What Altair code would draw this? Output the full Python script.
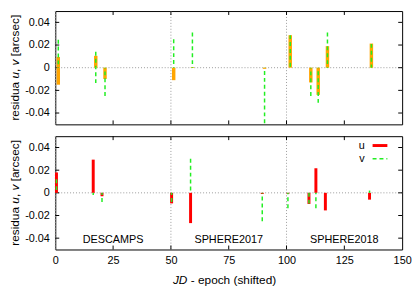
import altair as alt
import pandas as pd

# ---------------- data ----------------
x_ticks = [0, 25, 50, 75, 100, 125, 150]
inner_x_ticks = [25, 50, 75, 100, 125]
y_ticks = [-0.04, -0.02, 0, 0.02, 0.04]
sep_x = [0, 50, 100]

top_u_x = [1.3, 1.3, 17.5, 21.5, 51.2, 59.3, 90.5, 101.6, 110.5, 113.7, 117.7, 136.7]
top_u = [0.0095, -0.015, 0.0105, -0.010, -0.011, 0.0006, -0.001, 0.0287, -0.013, -0.024, 0.019, 0.0213]
top_v_x = [1.3, 17.5, 17.5, 21.5, 51.2, 59.3, 90.5, 101.6, 110.5, 113.7, 117.7, 136.7]
top_v = [0.0247, 0.014, -0.0136, -0.025, 0.025, 0.031, -0.049, 0.0287, -0.025, -0.031, 0.031, 0.021]

bot_u_x = [0.5, 16.4, 20.2, 50.3, 58.5, 89.5, 100.6, 109.7, 112.7, 116.8, 135.9]
bot_u = [0.018, 0.0293, -0.003, -0.0093, -0.0267, -0.001, -0.0008, -0.0098, 0.0217, -0.0155, -0.006]
bot_v_x = [0.5, 16.4, 20.2, 50.3, 58.5, 89.5, 100.6, 109.7, 112.7, 135.9]
bot_v = [0.012, -0.002, -0.008, -0.008, 0.030, -0.025, -0.0135, -0.0095, -0.0135, 0.002]

group_labels = ["DESCAMPS", "SPHERE2017", "SPHERE2018"]
group_x = [25, 75, 125]
group_y = [-0.042, -0.042, -0.042]

legend_labels = ["u", "v"]
y_title_parts = ["residua", "u", ",", "v", "[arcsec]"]
x_title_parts = ["JD", "- epoch (shifted)"]

# ---------------- style ----------------
W, H = 352, 115
FONT = "Liberation Sans"
ORANGE = "#ffa500"
GREEN = "#22ee22"
RED = "#ff0000"
GRAYDOT = "#9a9a9a"

xscale = alt.Scale(domain=[0, 150], nice=False, zero=False)
yscale = alt.Scale(domain=[-0.05, 0.05], nice=False, zero=False)

yaxis = alt.Axis(values=y_ticks, ticks=False, tickSize=0, domain=False, grid=False,
                 title=None, labelFont=FONT, labelFontSize=11, labelColor="black",
                 labelPadding=6,
                 labelExpr="datum.value == 0 ? '0' : (datum.value < 0 ? '-' : '') + format(abs(datum.value), '.2f')")
xaxis_bottom = alt.Axis(values=x_ticks, ticks=False, tickSize=0, domain=False, grid=False,
                        title=None, labelFont=FONT, labelFontSize=11, labelColor="black",
                        labelPadding=5, labelFlush=False)


def panel(ux, u, vx, v, ucolor, uwidth, show_x, legend):
    xaxis = xaxis_bottom if show_x else None

    def X(f):
        return alt.X(f, type="quantitative", scale=xscale, axis=xaxis)

    def Y(f):
        return alt.Y(f, type="quantitative", scale=yscale, axis=yaxis)

    du = pd.DataFrame({"x": ux, "y": u})
    dv = pd.DataFrame({"x": vx, "y": v})
    dyt = pd.DataFrame({"y": y_ticks})
    dxt = pd.DataFrame({"x": inner_x_ticks})

    layers = []
    layers.append(alt.Chart(pd.DataFrame({"y": [0]})).mark_rule(
        color=GRAYDOT, strokeDash=[1, 2], strokeWidth=1).encode(y=Y("y")))
    layers.append(alt.Chart(pd.DataFrame({"x": sep_x})).mark_rule(
        color=GRAYDOT, strokeDash=[1, 2], strokeWidth=1).encode(x=X("x")))
    # inward ticks
    layers.append(alt.Chart(dyt).mark_rule(color="black", strokeWidth=1).encode(
        y=Y("y"), x=alt.value(0), x2=alt.value(4)))
    layers.append(alt.Chart(dyt).mark_rule(color="black", strokeWidth=1).encode(
        y=Y("y"), x=alt.value(W - 4), x2=alt.value(W)))
    layers.append(alt.Chart(dxt).mark_rule(color="black", strokeWidth=1).encode(
        x=X("x"), y=alt.value(H - 4), y2=alt.value(H)))
    layers.append(alt.Chart(dxt).mark_rule(color="black", strokeWidth=1).encode(
        x=X("x"), y=alt.value(0), y2=alt.value(4)))
    # impulses
    layers.append(alt.Chart(du).mark_rule(color=ucolor, strokeWidth=uwidth).encode(
        x=X("x"), y=Y("y"), y2=alt.datum(0)))
    layers.append(alt.Chart(dv).mark_rule(color=GREEN, strokeWidth=1.5, strokeDash=[4, 3]).encode(
        x=X("x"), y=Y("y"), y2=alt.datum(0)))

    # y title made of pieces (italic u, v)
    fs = 12.0
    widths = [39.35, 6.67, 3.34, 6.0, 42.0]
    gaps = [3.34, 0.0, 3.34, 3.34, 0.0]
    italic = [False, True, False, True, False]
    total = sum(widths) + sum(gaps)
    ypos = H / 2 + total / 2
    for txt, w, g, it in zip(y_title_parts, widths, gaps, italic):
        layers.append(alt.Chart(pd.DataFrame({"t": [txt]})).mark_text(
            angle=270, align="left", baseline="middle", font=FONT, fontSize=fs,
            fontStyle="italic" if it else "normal", color="black").encode(
            x=alt.value(-41), y=alt.value(ypos), text="t:N"))
        ypos -= (w + g)

    if show_x:
        dl = pd.DataFrame({"x": group_x, "y": group_y, "t": group_labels})
        layers.append(alt.Chart(dl).mark_text(
            font=FONT, fontSize=11, baseline="middle", align="center", color="black").encode(
            x=X("x"), y=Y("y"), text="t:N"))
        layers.append(alt.Chart(pd.DataFrame({"t": [x_title_parts[0]]})).mark_text(
            font=FONT, fontSize=12, fontStyle="italic", align="right", baseline="middle",
            color="black").encode(x=alt.value(134), y=alt.value(H + 31), text="t:N"))
        layers.append(alt.Chart(pd.DataFrame({"t": [x_title_parts[1]]})).mark_text(
            font=FONT, fontSize=12, align="left", baseline="middle",
            color="black").encode(x=alt.value(137.5), y=alt.value(H + 31), text="t:N"))

    if legend:
        layers.append(alt.Chart(pd.DataFrame({"t": [legend_labels[0]]})).mark_text(
            font=FONT, fontSize=11, align="right", baseline="middle", color="black").encode(
            x=alt.value(314), y=alt.value(9.5), text="t:N"))
        layers.append(alt.Chart(pd.DataFrame({"t": [legend_labels[1]]})).mark_text(
            font=FONT, fontSize=11, align="right", baseline="middle", color="black").encode(
            x=alt.value(314), y=alt.value(23), text="t:N"))
        layers.append(alt.Chart(pd.DataFrame({"t": [legend_labels[0]]})).mark_rule(
            color=RED, strokeWidth=3).encode(
            x=alt.value(322), x2=alt.value(337), y=alt.value(9.5)))
        layers.append(alt.Chart(pd.DataFrame({"t": [legend_labels[1]]})).mark_rule(
            color=GREEN, strokeWidth=1.5, strokeDash=[4, 3]).encode(
            x=alt.value(322), x2=alt.value(337), y=alt.value(23)))

    return alt.layer(*layers).properties(width=W, height=H)


top = panel(top_u_x, top_u, top_v_x, top_v, ORANGE, 3.5, False, False)
bottom = panel(bot_u_x, bot_u, bot_v_x, bot_v, RED, 3, True, True)

chart = alt.vconcat(top, bottom, spacing=10).properties(
    padding={"left": 0, "top": 0, "right": 0, "bottom": 0},
    background="white",
).configure_view(stroke="black", strokeWidth=1).configure_axis(labelFont=FONT)

chart.save("out.html", embed_options={"renderer": "svg", "actions": False})
